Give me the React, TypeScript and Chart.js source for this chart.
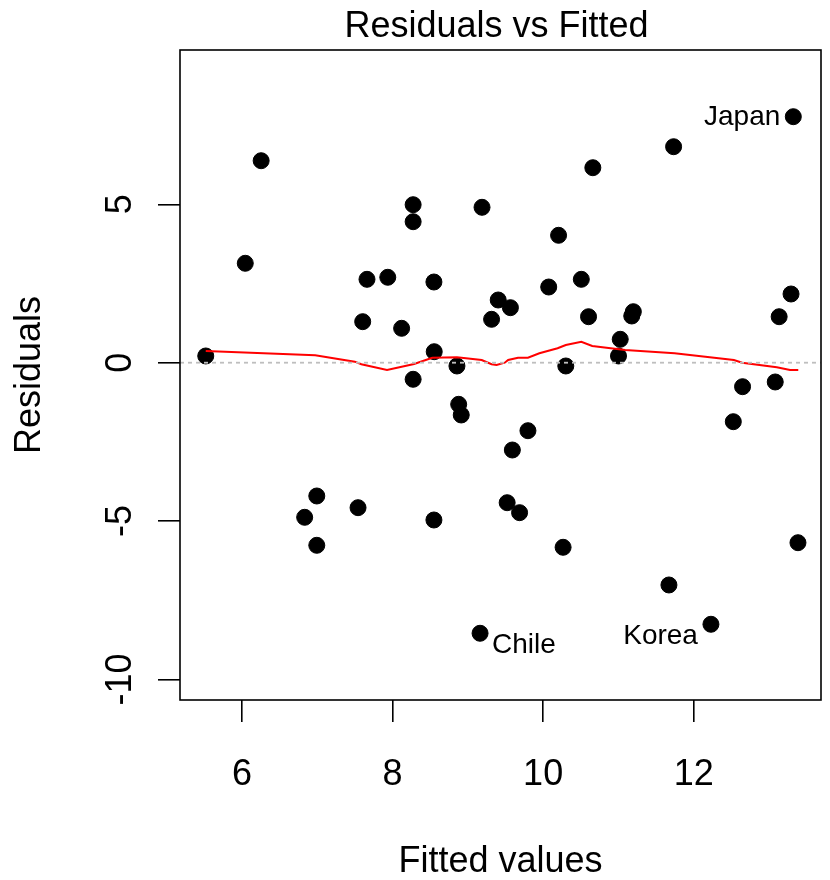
import React, { useEffect, useRef } from "react";
import { Chart, registerables } from "chart.js";

Chart.register(...registerables);

// ---- data ----
const FITTED = [
  5.518, 6.254, 6.043, 8.273, 8.273, 9.188, 7.66, 7.936, 8.549, 7.603,
  8.12, 8.553, 8.855, 13.323, 11.733, 10.66, 10.205, 10.074, 10.507, 9.403,
  9.565, 9.315, 10.603, 11.198, 11.177, 13.293, 13.135, 11.024, 11.001, 10.301,
  8.273, 8.878, 8.912, 6.993, 6.832, 6.993, 7.541, 8.549, 9.162, 9.798,
  9.591, 9.522, 9.687, 10.265, 12.649, 13.083, 12.526, 13.385, 11.671, 12.229,
];
const RESIDUALS = [
  0.212, 6.378, 3.139, 4.989, 4.452, 4.907, 2.633, 2.697, 2.548, 1.295,
  1.086, 0.347, -0.104, 7.768, 6.82, 6.157, 4.023, 2.39, 2.633, 1.98,
  1.737, 1.37, 1.452, 1.61, 1.475, 2.169, 1.452, 0.739, 0.212, -0.104,
  -0.524, -1.314, -1.651, -4.209, -4.882, -5.766, -4.578, -4.967, -8.544, -2.147,
  -2.757, -4.421, -4.736, -5.829, -0.758, -0.609, -1.863, -5.684, -7.019, -8.26,
];
const SMOOTH_X = [
  5.518, 6.972, 7.498, 7.585, 7.926, 8.286, 8.527, 8.855, 9.184, 9.315,
  9.381, 9.49, 9.535, 9.666, 9.798, 9.95, 10.192, 10.301, 10.507, 10.652,
  11.089, 11.746, 12.534, 12.644, 13.104, 13.28, 13.389,
];
const SMOOTH_Y = [
  0.369, 0.234, 0.032, -0.05, -0.23, -0.04, 0.158, 0.171, 0.085, -0.05,
  -0.073, 0, 0.085, 0.158, 0.158, 0.297, 0.455, 0.559, 0.663, 0.527,
  0.401, 0.297, 0.085, 0, -0.145, -0.23, -0.23,
];
const ID_LABELS = ["Japan", "Chile", "Korea"];
const ID_INDEX = [13, 38, 49];
const X_TICKS = [6, 8, 10, 12];
const Y_TICKS = [-10, -5, 0, 5];
const X_MIN = 5.176;
const X_MAX = 13.691;
const Y_MIN = -10.651;
const Y_MAX = 9.874;
const TITLE = "Residuals vs Fitted";
const X_TITLE = "Fitted values";
const Y_TITLE = "Residuals";

const FONT = "'Liberation Sans', Arial, Helvetica, sans-serif";

const decor = {
  id: "decor",
  afterDatasetsDraw(chart: any) {
    const { ctx, chartArea: a, scales } = chart;
    ctx.save();
    ctx.fillStyle = "#000";
    ctx.font = `28px ${FONT}`;
    ctx.textBaseline = "middle";
    const midX = (a.left + a.right) / 2;
    ID_INDEX.forEach((idx, i) => {
      const px = scales.x.getPixelForValue(FITTED[idx]);
      const py = scales.y.getPixelForValue(RESIDUALS[idx]);
      const dy = RESIDUALS[idx] < 0 ? 12 : 1;
      if (px > midX) {
        ctx.textAlign = "right";
        ctx.fillText(ID_LABELS[i], px - 13, py + dy);
      } else {
        ctx.textAlign = "left";
        ctx.fillText(ID_LABELS[i], px + 12, py + dy);
      }
    });
    ctx.restore();
  },
  afterDraw(chart: any) {
    const { ctx, chartArea: a, scales } = chart;
    ctx.save();
    ctx.strokeStyle = "#000";
    ctx.lineWidth = 1.6;
    ctx.strokeRect(a.left, a.top, a.right - a.left, a.bottom - a.top);
    ctx.fillStyle = "#000";
    ctx.font = `36px ${FONT}`;
    ctx.textAlign = "center";
    ctx.textBaseline = "alphabetic";
    ctx.fillText(TITLE, (a.left + a.right) / 2 - 4, 37);
    // rotated y tick labels (R style, parallel to axis)
    ctx.textBaseline = "middle";
    Y_TICKS.forEach((v) => {
      const y = scales.y.getPixelForValue(v);
      ctx.save();
      ctx.translate(a.left - 59, y);
      ctx.rotate(-Math.PI / 2);
      ctx.fillText(String(v), 0, 0);
      ctx.restore();
    });
    ctx.restore();
  },
};

export default function App() {
  const ref = useRef<HTMLCanvasElement | null>(null);
  useEffect(() => {
    document.body.style.margin = "0";
    const canvas = ref.current;
    if (!canvas) return;
    const points = FITTED.map((x, i) => ({ x, y: RESIDUALS[i] }));
    const smooth = SMOOTH_X.map((x, i) => ({ x, y: SMOOTH_Y[i] }));
    const chart = new Chart(canvas, {
      type: "scatter",
      data: {
        datasets: [
          {
            label: "zero",
            data: [
              { x: X_MIN, y: 0 },
              { x: X_MAX, y: 0 },
            ],
            showLine: true,
            borderColor: "#bebebe",
            borderWidth: 1.8,
            borderDash: [4, 4],
            pointRadius: 0,
          },
          {
            label: "smooth",
            data: smooth,
            showLine: true,
            borderColor: "#ff0000",
            borderWidth: 2,
            pointRadius: 0,
            tension: 0,
          },
          {
            label: "residuals",
            data: points,
            backgroundColor: "#000",
            borderColor: "#000",
            borderWidth: 1,
            pointRadius: 8,
          },
        ],
      },
      options: {
        responsive: false,
        animation: false,
        events: [],
        layout: { padding: { top: 50, right: 2, left: 0, bottom: 0 } },
        plugins: { legend: { display: false }, tooltip: { enabled: false }, title: { display: false } },
        scales: {
          x: {
            type: "linear",
            min: X_MIN,
            max: X_MAX,
            afterBuildTicks: (s: any) => {
              s.ticks = X_TICKS.map((value) => ({ value }));
            },
            afterFit: (s: any) => {
              s.height = 180;
            },
            grid: {
              display: true,
              drawOnChartArea: false,
              drawTicks: true,
              tickLength: 22,
              color: "#000",
              lineWidth: 1.6,
            },
            border: { display: false },
            ticks: {
              color: "#000",
              font: { family: FONT, size: 36 },
              padding: 31,
              maxRotation: 0,
              autoSkip: false,
            },
            title: {
              display: true,
              text: X_TITLE,
              color: "#000",
              font: { family: FONT, size: 36, lineHeight: 1 },
              padding: { top: 0, bottom: 0 },
            },
          },
          y: {
            type: "linear",
            min: Y_MIN,
            max: Y_MAX,
            afterBuildTicks: (s: any) => {
              s.ticks = Y_TICKS.map((value) => ({ value }));
            },
            afterFit: (s: any) => {
              s.width = 180;
            },
            grid: {
              display: true,
              drawOnChartArea: false,
              drawTicks: true,
              tickLength: 22,
              color: "#000",
              lineWidth: 1.6,
            },
            border: { display: false },
            ticks: { display: false },
            title: {
              display: true,
              text: Y_TITLE,
              color: "#000",
              font: { family: FONT, size: 36, lineHeight: 1 },
              padding: { top: 12, bottom: 0 },
            },
          },
        },
      },
      plugins: [decor],
    } as any);
    return () => chart.destroy();
  }, []);
  return (
    <div style={{ position: "absolute", left: 0, top: 0, width: 830, height: 880 }}>
      <canvas ref={ref} width={830} height={880} style={{ width: 830, height: 880 }} />
    </div>
  );
}
